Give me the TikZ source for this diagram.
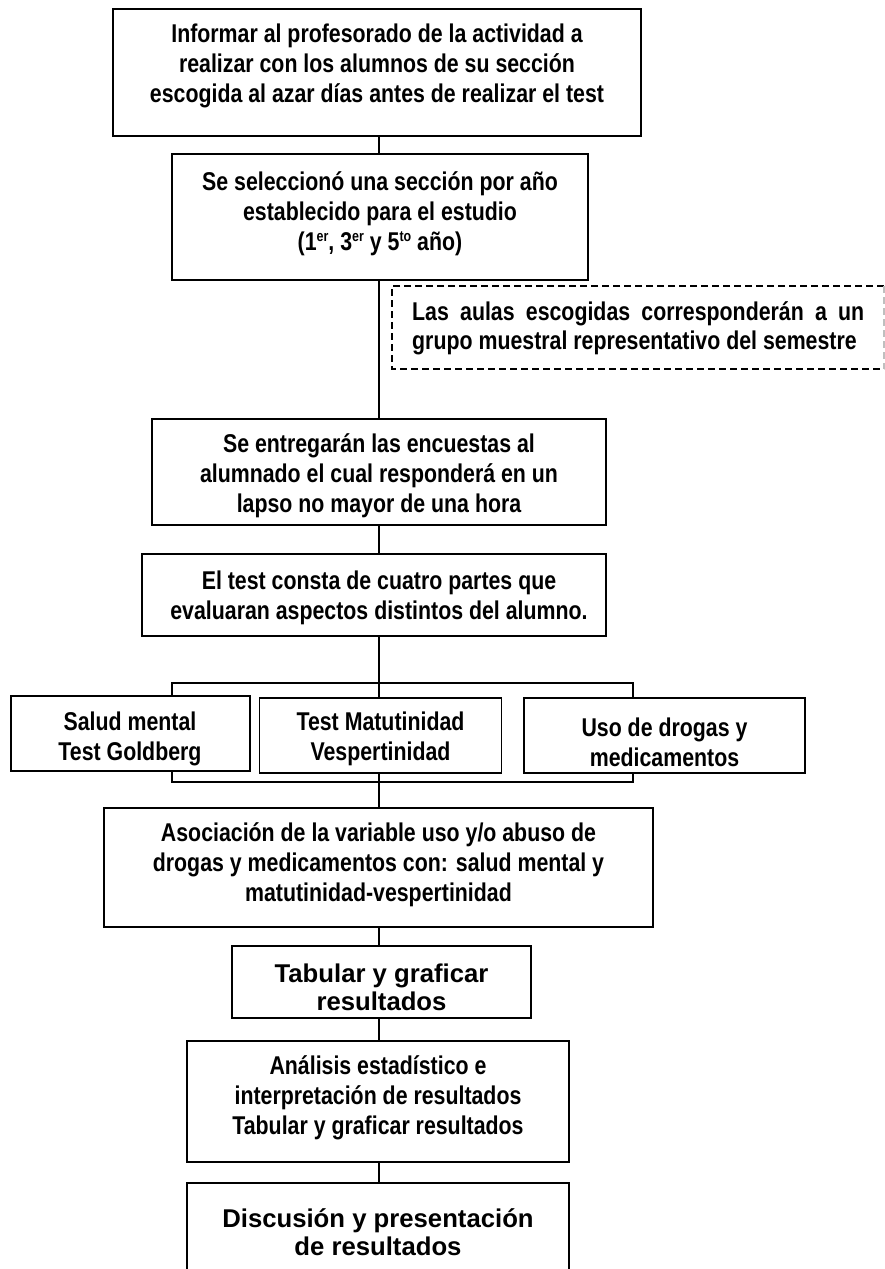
\documentclass[tikz,border=0pt]{standalone}
\usepackage{fontspec}
\setmainfont{Liberation Sans}
\newfontfamily\narbf{Liberation Sans Bold}[FakeStretch=0.83]
\newfontfamily\regbf{Liberation Sans Bold}
\newcommand{\mysup}[1]{\raisebox{0.33em}{\fontsize{15}{15}\selectfont #1}}
\begin{document}
\begin{tikzpicture}[x=1pt,y=-1pt,
  box/.style={draw=black,line width=1.6pt,inner sep=0pt},
  ntxt/.style={font=\narbf\fontsize{25.7}{30}\selectfont,align=center,inner sep=0pt},
  rtxt/.style={font=\regbf\fontsize{25.7}{28}\selectfont,align=center,inner sep=0pt},
  link/.style={draw=black,line width=1.3pt}]
\useasboundingbox (0,0) rectangle (885,1269);
\clip (0,0) rectangle (885,1269);
\fill[white] (0,0) rectangle (885,1269);
\coordinate (spine) at (379,0);
% boxes
\node[box,minimum width=528pt,minimum height=127pt] (b1) at (377,72.5) {};
\node[ntxt] (t1) at (377,66) {Informar al profesorado de la actividad a\\realizar con los alumnos de su sección\\escogida al azar días antes de realizar el test};
\node[box,minimum width=416pt,minimum height=126pt] (b2) at (380,217) {};
\node[ntxt] (t2) at (380,213.5) {Se seleccionó una sección por año\\establecido para el estudio\\(1\mysup{er}, 3\mysup{er} y 5\mysup{to} año)};
\draw[line width=1.3pt,dash pattern=on 7pt off 4pt] (884,286) -- (392,286) -- (392,369) -- (884,369);
\draw[line width=1.2pt,draw=black!25,dash pattern=on 7pt off 4pt] (884,286) -- (884,369);
\node[inner sep=0pt,anchor=west,font=\narbf\fontsize{25.7}{29}\selectfont] (t3) at (412,328.5) {\parbox{452pt}{\noindent Las aulas escogidas corresponderán a un\linebreak grupo muestral representativo del semestre}};
\node[box,minimum width=454pt,minimum height=106pt] (b3) at (379,472) {};
\node[ntxt] (t4) at (379,475.5) {Se entregarán las encuestas al\\alumnado el cual responderá en un\\lapso no mayor de una hora};
\node[box,minimum width=464pt,minimum height=82pt] (b4) at (374,595) {};
\node[ntxt] (t5) at (379,597.5) {El test consta de cuatro partes que\\evaluaran aspectos distintos del alumno.};
\node[box,minimum width=239pt,minimum height=75pt] (b5a) at (130.5,733.5) {};
\node[ntxt] (t6) at (130,738.5) {Salud mental\\Test Goldberg};
\node[box,minimum width=242pt,minimum height=75pt] (b5b) at (380.5,735.5) {};
\node[ntxt] (t7) at (380.5,738.5) {Test Matutinidad\\Vespertinidad};
\node[box,minimum width=281pt,minimum height=75pt] (b5c) at (664.5,735.5) {};
\node[ntxt] (t8) at (664.5,742) {Uso de drogas y\\medicamentos};
\node[box,minimum width=549pt,minimum height=119pt] (b6) at (378.5,867.5) {};
\node[ntxt] (t9) at (378.5,865) {Asociación de la variable uso y/o abuso de\\drogas y medicamentos con: salud mental y\\matutinidad-vespertinidad};
\node[box,minimum width=299pt,minimum height=72pt] (b7) at (381.5,982) {};
\node[rtxt] (t10) at (381.5,987) {Tabular y graficar\\resultados};
\node[box,minimum width=382pt,minimum height=121pt] (b8) at (378,1101.5) {};
\node[ntxt] (t11) at (378,1097.5) {Análisis estadístico e\\interpretación de resultados\\Tabular y graficar resultados};
\node[box,minimum width=382pt,minimum height=107pt] (b9) at (378,1236.5) {};
\node[rtxt] (t12) at (378,1232) {Discusión y presentación\\de resultados};
% connectors
\coordinate (tl) at (172,683);
\coordinate (tr) at (633,683);
\coordinate (bl) at (172,782);
\coordinate (br) at (633,782);
\draw[link] (b1.south -| spine) -- (b2.north -| spine);
\draw[link] (b2.south -| spine) -- (b3.north -| spine);
\draw[link] (b3.south -| spine) -- (b4.north -| spine);
\draw[link] (b4.south -| spine) -- (b5b.north -| spine);
\draw[link] (b5a.north -| tl) -- (tl) -- (tr) -- (b5c.north -| tr);
\draw[link] (b5a.south -| bl) -- (bl) -- (br) -- (b5c.south -| br);
\draw[link] (b5b.south -| spine) -- (b6.north -| spine);
\draw[link] (b6.south -| spine) -- (b7.north -| spine);
\draw[link] (b7.south -| spine) -- (b8.north -| spine);
\draw[link] (b8.south -| spine) -- (b9.north -| spine);
\end{tikzpicture}
\end{document}
